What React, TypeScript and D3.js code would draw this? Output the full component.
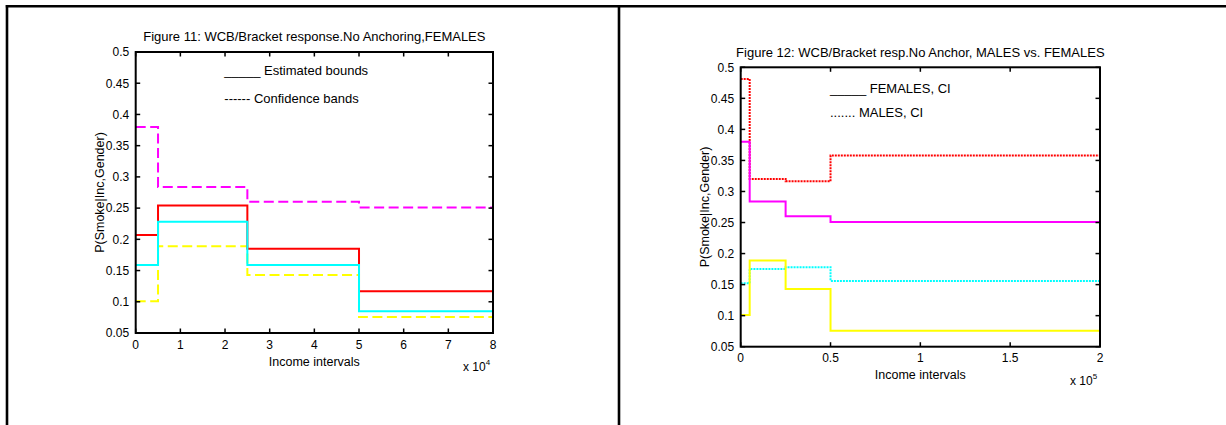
import React from 'react';
import * as d3 from 'd3';

// Income bracket lower limits (step starts)
const incomeBreaks = [0, 5000, 25000, 50000];
// Figure 11 / 12 series (P(Smoke|Inc,Gender))
const femUpperBound = [0.207, 0.254, 0.185, 0.117];
const femLowerBound = [0.159, 0.228, 0.159, 0.085];
const femUpperCI = [0.38, 0.284, 0.26, 0.251];
const femLowerCI = [0.101, 0.189, 0.143, 0.0755];
const maleUpperCI = [0.481, 0.32, 0.3165, 0.358];
const maleLowerCI = [0.152, 0.175, 0.178, 0.156];

const yTicks = [0.05, 0.1, 0.15, 0.2, 0.25, 0.3, 0.35, 0.4, 0.45, 0.5];
const yTickLabels = ['0.05', '0.1', '0.15', '0.2', '0.25', '0.3', '0.35', '0.4', '0.45', '0.5'];
const leftXTicks = [0, 10000, 20000, 30000, 40000, 50000, 60000, 70000, 80000];
const leftXTickLabels = ['0', '1', '2', '3', '4', '5', '6', '7', '8'];
const rightXTicks = [0, 50000, 100000, 150000, 200000];
const rightXTickLabels = ['0', '0.5', '1', '1.5', '2'];

const FONT = '"Liberation Sans", Arial, sans-serif';

type Series = { values: number[]; color: string; dash?: string };

type PanelProps = {
  x0: number; x1: number; y0: number; y1: number;
  xMax: number;
  xTicks: number[]; xTickLabels: string[];
  title: string;
  exponent: string;
  series: Series[];
  legend: { text: string; dx: number; dy: number }[];
};

function Panel(p: PanelProps) {
  const x = d3.scaleLinear().domain([0, p.xMax]).range([p.x0, p.x1]);
  const y = d3.scaleLinear().domain([0.05, 0.5]).range([p.y1, p.y0]);
  const line = d3
    .line<[number, number]>()
    .x((d) => x(d[0]))
    .y((d) => y(d[1]))
    .curve(d3.curveStepAfter);
  const cx = (p.x0 + p.x1) / 2;
  const cy = (p.y0 + p.y1) / 2;
  const tl = 4.5;
  return (
    <g fontFamily={FONT} fill="#000">
      <text x={cx} y={p.y0 - 10.7} textAnchor="middle" fontSize={13}>{p.title}</text>
      {p.series.map((s, i) => {
        const pts: [number, number][] = incomeBreaks.map((b, j) => [b, s.values[j]] as [number, number]);
        pts.push([p.xMax, s.values[s.values.length - 1]]);
        return (
          <path key={i} d={line(pts) || ''} fill="none" stroke={s.color} strokeWidth={2}
            strokeDasharray={s.dash} />
        );
      })}
      <rect x={p.x0} y={p.y0} width={p.x1 - p.x0} height={p.y1 - p.y0} fill="none" stroke="#000" strokeWidth={2} />
      {p.xTicks.map((t, i) => (
        <g key={'x' + i}>
          <line x1={x(t)} x2={x(t)} y1={p.y1} y2={p.y1 - tl} stroke="#000" strokeWidth={1.5} />
          <line x1={x(t)} x2={x(t)} y1={p.y0} y2={p.y0 + tl} stroke="#000" strokeWidth={1.5} />
          <text x={x(t)} y={p.y1 + 15.5} textAnchor="middle" fontSize={12}>{p.xTickLabels[i]}</text>
        </g>
      ))}
      {yTicks.map((t, i) => (
        <g key={'y' + i}>
          <line x1={p.x0} x2={p.x0 + tl} y1={y(t)} y2={y(t)} stroke="#000" strokeWidth={1.5} />
          <line x1={p.x1} x2={p.x1 - tl} y1={y(t)} y2={y(t)} stroke="#000" strokeWidth={1.5} />
          <text x={p.x0 - 6.5} y={y(t) + 4.3} textAnchor="end" fontSize={12}>{yTickLabels[i]}</text>
        </g>
      ))}
      <text x={cx} y={p.y1 + 32.5} textAnchor="middle" fontSize={12.5}>Income intervals</text>
      <text x={p.x1 - 30} y={p.y1 + 38} fontSize={12}>
        x 10<tspan fontSize={8} dy={-6}>{p.exponent}</tspan>
      </text>
      <text transform={`translate(${p.x0 - 32},${cy}) rotate(-90)`} textAnchor="middle" fontSize={12.5}>
        P(Smoke|Inc,Gender)
      </text>
      {p.legend.map((l, i) => (
        <text key={'l' + i} x={p.x0 + l.dx} y={p.y0 + l.dy} fontSize={13}>{l.text}</text>
      ))}
    </g>
  );
}

export default function App() {
  return (
    <svg width={1226} height={425} style={{ position: 'absolute', left: 0, top: 0, background: '#fff' }}>
      <rect x={0} y={0} width={1226} height={425} fill="#fff" />
      <line x1={5.8} x2={1226} y1={6.3} y2={6.3} stroke="#000" strokeWidth={2.6} />
      <line x1={7} x2={7} y1={5} y2={425} stroke="#000" strokeWidth={2.6} />
      <line x1={619} x2={619} y1={5} y2={425} stroke="#000" strokeWidth={2.6} />
      <Panel
        x0={135.7} x1={493} y0={52} y1={333}
        xMax={80000}
        xTicks={leftXTicks} xTickLabels={leftXTickLabels}
        title="Figure 11: WCB/Bracket response.No Anchoring,FEMALES"
        exponent="4"
        series={[
          { values: femUpperCI, color: '#ff00ff', dash: '10,4.5' },
          { values: femLowerCI, color: '#ffff00', dash: '10,4.5' },
          { values: femUpperBound, color: '#ff0000' },
          { values: femLowerBound, color: '#00ffff' },
        ]}
        legend={[
          { text: '_____ Estimated bounds', dx: 88.6, dy: 23 },
          { text: '------ Confidence bands', dx: 88.6, dy: 50.7 },
        ]}
      />
      <Panel
        x0={740.7} x1={1100} y0={67.3} y1={346.7}
        xMax={200000}
        xTicks={rightXTicks} xTickLabels={rightXTickLabels}
        title="Figure 12: WCB/Bracket resp.No Anchor, MALES vs. FEMALES"
        exponent="5"
        series={[
          { values: maleUpperCI, color: '#ff0000', dash: '2,1' },
          { values: femUpperCI, color: '#ff00ff' },
          { values: maleLowerCI, color: '#00ffff', dash: '2,1' },
          { values: femLowerCI, color: '#ffff00' },
        ]}
        legend={[
          { text: '_____ FEMALES, CI', dx: 89.3, dy: 26 },
          { text: '....... MALES, CI', dx: 89.3, dy: 49.4 },
        ]}
      />
    </svg>
  );
}
